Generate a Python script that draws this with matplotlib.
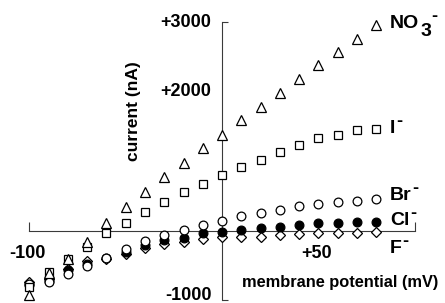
import matplotlib
matplotlib.use("Agg")
import matplotlib.pyplot as plt

plt.rcParams["font.family"] = ["Liberation Sans", "DejaVu Sans"]
plt.rcParams["font.weight"] = "bold"

# membrane potential (mV) and current (nA) for each anion
potential = [-100, -90, -80, -70, -60, -50, -40, -30, -20, -10,
             0, 10, 20, 30, 40, 50, 60, 70, 80]
nitrate = [-930, -610, -410, -158, 115, 342, 558, 774, 981, 1195,
           1374, 1590, 1777, 1983, 2180, 2391, 2573, 2765, 2957]
iodide = [-810, -590, -414, -233, -40, 104, 262, 414, 550, 679,
          799, 918, 1024, 1134, 1240, 1327, 1374, 1446, 1470]
bromide = [-760, -737, -616, -511, -390, -260, -144, -62, 10, 82,
           144, 209, 256, 305, 353, 381, 406, 424, 449]
chloride = [-780, -720, -560, -480, -393, -300, -200, -134, -110, -37,
            -14, 17, 32, 55, 89, 104, 118, 127, 130]
fluoride = [-734, -690, -544, -439, -400, -328, -253, -192, -158, -124,
            -95, -95, -86, -62, -48, -37, -29, -29, -14]

ion_names = ["NO", "I", "Br", "Cl", "F"]
ion_subscripts = ["3", "", "", "", ""]
ion_label_y = [2917, 1404, 442, 82, -321]

y_tick_values = [3000, 2000, -1000]
y_tick_labels = ["+3000", "+2000", "-1000"]
x_tick_values = [-100, 50]
x_tick_labels = ["-100", "+50"]

fig = plt.figure(figsize=(4.45, 3.03), dpi=100)
ax = fig.add_axes([0, 0, 1, 1])
ax.set_xlim(-115.3, 115.8)
ax.set_ylim(-1040, 3319)

for spine in ("top", "right"):
    ax.spines[spine].set_visible(False)
ax.spines["left"].set_position(("data", 0))
ax.spines["bottom"].set_position(("data", 0))
ax.spines["left"].set_bounds(-1000, 3000)
ax.spines["bottom"].set_bounds(-100, 100)
for spine in ("left", "bottom"):
    ax.spines[spine].set_color("#3a3a3a")
    ax.spines[spine].set_linewidth(0.8)
    ax.spines[spine].set_zorder(1)

ax.set_yticks([-1000, 3000])
ax.set_xticks([-100, 100])
ax.tick_params(axis="y", direction="in", length=4, width=0.8, color="#3a3a3a",
               labelleft=False)
ax.tick_params(axis="x", direction="in", length=6.5, width=0.8, color="#3a3a3a",
               labelbottom=False)

style = dict(linestyle="none", markeredgecolor="black", markeredgewidth=0.9,
             zorder=3)
ax.plot(potential, fluoride, marker="D", markersize=5.2, markerfacecolor="white", **style)
ax.plot(potential, chloride, marker="o", markersize=6.3, markerfacecolor="black", **style)
ax.plot(potential, bromide, marker="o", markersize=6.3, markerfacecolor="white", **style)
ax.plot(potential, iodide, marker="s", markersize=6.3, markerfacecolor="white", **style)
ax.plot(potential, nitrate, marker="^", markersize=7, markerfacecolor="white", **style)

for value, label in zip(y_tick_values, y_tick_labels):
    va = "baseline" if value < 0 else "center"
    ax.text(-5.5, value, label, ha="right", va=va, fontsize=13, fontweight="bold")

for value, label in zip(x_tick_values, x_tick_labels):
    ax.text(value - 1, -390, label, ha="center", va="baseline", fontsize=13,
            fontweight="bold")

# anion names with a charge sign (and the nitrate subscript) hung off each name
for name, sub, y in zip(ion_names, ion_subscripts, ion_label_y):
    base = ax.text(87.3, y, name, ha="left", va="baseline", fontsize=14,
                   fontweight="bold")
    right = base
    if sub:
        right = ax.annotate(sub, xy=(1, 0), xycoords=base, xytext=(0.5, -6),
                            textcoords="offset points", ha="left", va="bottom",
                            fontsize=14, fontweight="bold")
    ax.annotate("-", xy=(1, 1), xycoords=(right, base), xytext=(0.3, 5),
                textcoords="offset points", ha="left", va="top",
                fontsize=13, fontweight="bold")

ax.text(10.2, -810, "membrane potential (mV)", ha="left", va="baseline",
        fontsize=11.8, fontweight="bold")
ax.text(-46.2, 1722, "current (nA)", ha="center", va="center", rotation=90,
        fontsize=12.5, fontweight="bold")

fig.savefig("out.png", dpi=100)
